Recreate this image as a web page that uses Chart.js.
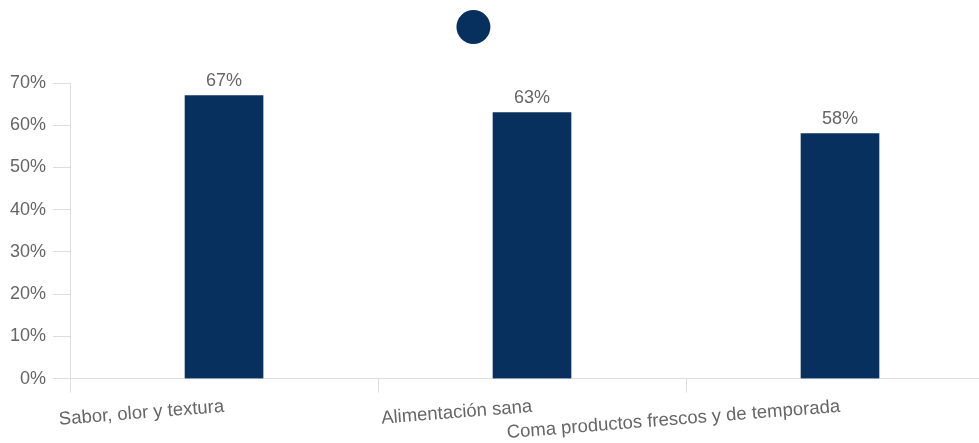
<!DOCTYPE html>
<html>
<head>
<meta charset="utf-8">
<script src="https://cdn.jsdelivr.net/npm/chart.js@4"></script>
<style>
html,body{margin:0;padding:0;background:#fff;overflow:hidden;}
#wrap{width:994px;height:447px;position:relative;}
</style>
</head>
<body>
<div id="wrap"><canvas id="c"></canvas></div>
<script>
const categories = ["Sabor, olor y textura", "Alimentación sana", "Coma productos frescos y de temporada"];
const values = [67, 63, 58];
const seriesName = "     \u2009";

const FONT = '"Liberation Sans", Arial, sans-serif';

const barLabels = {
  id: 'barLabels',
  afterDatasetsDraw(chart) {
    const ctx = chart.ctx;
    ctx.save();
    ctx.font = '18px ' + FONT;
    ctx.fillStyle = '#666';
    ctx.textAlign = 'center';
    ctx.textBaseline = 'bottom';
    chart.getDatasetMeta(0).data.forEach((bar, i) => {
      ctx.fillText(values[i] + '%', bar.x, bar.y - 6);
    });
    ctx.restore();
  }
};

const legendGap = {
  id: 'legendGap',
  beforeInit(chart) {
    const fit = chart.legend.fit;
    chart.legend.fit = function () {
      fit.call(this);
      this.height += 34;
    };
  }
};

new Chart(document.getElementById('c'), {
  type: 'bar',
  data: {
    labels: categories,
    datasets: [{
      label: seriesName,
      data: values,
      backgroundColor: '#08305f',
      borderWidth: 0,
      barThickness: 78
    }]
  },
  options: {
    responsive: true,
    maintainAspectRatio: false,
    animation: false,
    layout: { padding: { top: 0, right: 0, left: 3, bottom: 0 } },
    plugins: {
      legend: {
        display: true,
        position: 'top',
        labels: {
          usePointStyle: true,
          pointStyle: 'circle',
          boxWidth: 24,
          boxHeight: 24,
          font: { size: 24, family: FONT },
          color: '#666',
          padding: 15
        }
      },
      tooltip: { enabled: false }
    },
    scales: {
      x: {
        grid: { drawOnChartArea: false, color: '#ddd', tickLength: 14, offset: true },
        border: { color: '#ddd' },
        ticks: {
          font: { size: 18.5, family: FONT },
          color: '#666',
          minRotation: 4.5,
          maxRotation: 4.5,
          autoSkip: false
        }
      },
      y: {
        min: 0,
        max: 70,
        grid: { drawOnChartArea: false, color: '#ddd', tickLength: 17 },
        border: { color: '#ddd' },
        ticks: {
          stepSize: 10,
          font: { size: 18, family: FONT },
          color: '#666',
          padding: 7,
          callback: v => v + '%'
        }
      }
    }
  },
  plugins: [barLabels, legendGap]
});
</script>
</body>
</html>
